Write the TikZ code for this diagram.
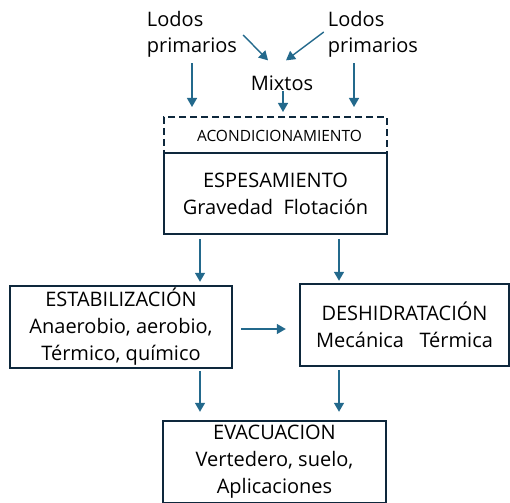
\documentclass[tikz,border=0pt]{standalone}
\usepackage{fontspec}
\setmainfont{Open Sans}
\usetikzlibrary{arrows.meta}
\definecolor{flecha}{RGB}{35,105,140}
\definecolor{marco}{RGB}{14,40,60}
\tikzset{
  caja/.style={draw=marco, line width=2.4pt, rectangle, align=center, inner sep=0pt,
    font=\fontsize{20}{27}\selectfont},
  rotulo/.style={inner sep=0pt, align=left, font=\fontsize{20}{26}\selectfont},
  flujo/.style={draw=flecha, line width=1.4pt, -{Triangle[length=9pt,width=10pt]}},
}

\begin{document}
\begin{tikzpicture}[x=1pt,y=-1pt]
  \useasboundingbox (0,0) rectangle (510,502);

  % entradas
  \node[rotulo] (lodosL) at (192,34) {Lodos\\primarios};
  \node[rotulo] (lodosR) at (373,34) {Lodos\\primarios};
  \node[rotulo] (mixtos) at (282,83) {Mixtos};

  % cajas
  \node[caja, dash pattern=on 7pt off 4pt, line width=2pt, minimum width=223, minimum height=38,
        font=\fontsize{15.5}{18}\selectfont] (acond) at (275.5,136) {\hspace*{8pt}ACONDICIONAMIENTO};
  \node[caja, fill=white, minimum width=223, minimum height=81] (espes) at (275.5,193.5)
    {ESPESAMIENTO\\Gravedad\ \ Flotación};
  \node[caja, minimum width=222, minimum height=82] (estab) at (121,327)
    {ESTABILIZACIÓN\\Anaerobio, aerobio,\\Térmico, químico};
  \node[caja, minimum width=209, minimum height=82] (deshid) at (404.5,325)
    {DESHIDRATACIÓN\\Mecánica\ \ \ Térmica};
  \node[caja, minimum width=223, minimum height=82] (evac) at (274.5,462)
    {EVACUACION\\Vertedero, suelo,\\Aplicaciones};

  % flechas de entrada
  \draw[flujo] ([shift={(6,1)}]lodosL.east) -- ([shift={(-14,-15)}]mixtos.north);
  \draw[flujo] ([shift={(-4,-2)}]lodosR.west) -- ([shift={(4,-15)}]mixtos.north);
  \draw[flujo, shorten <=6pt, shorten >=9pt] (lodosL.south) -- (lodosL.south |- acond.north);
  \draw[flujo, shorten >=4pt] ([xshift=1]mixtos.south) -- ([xshift=1]mixtos.south |- acond.north);
  \draw[flujo, shorten <=6pt, shorten >=9pt] ([xshift=-19]lodosR.south) -- ([xshift=-19]lodosR.south |- acond.north);

  % flechas entre procesos
  \draw[flujo, shorten <=4pt, shorten >=3pt] ([xshift=-75.5]espes.south) -- ([xshift=-75.5]espes.south |- estab.north);
  \draw[flujo, shorten <=4pt, shorten >=2pt] ([xshift=63.5]espes.south) -- ([xshift=63.5]espes.south |- deshid.north);
  \draw[flujo, shorten <=8pt, shorten >=13pt] ([yshift=-2]estab.east) -- ([yshift=-2]deshid.west |- estab.east);
  \draw[flujo, shorten <=2pt, shorten >=8pt] ([xshift=79]estab.south) -- ([xshift=79]estab.south |- evac.north);
  \draw[flujo, shorten <=3pt, shorten >=8pt] ([xshift=-65.5]deshid.south) -- ([xshift=-65.5]deshid.south |- evac.north);
\end{tikzpicture}
\end{document}
